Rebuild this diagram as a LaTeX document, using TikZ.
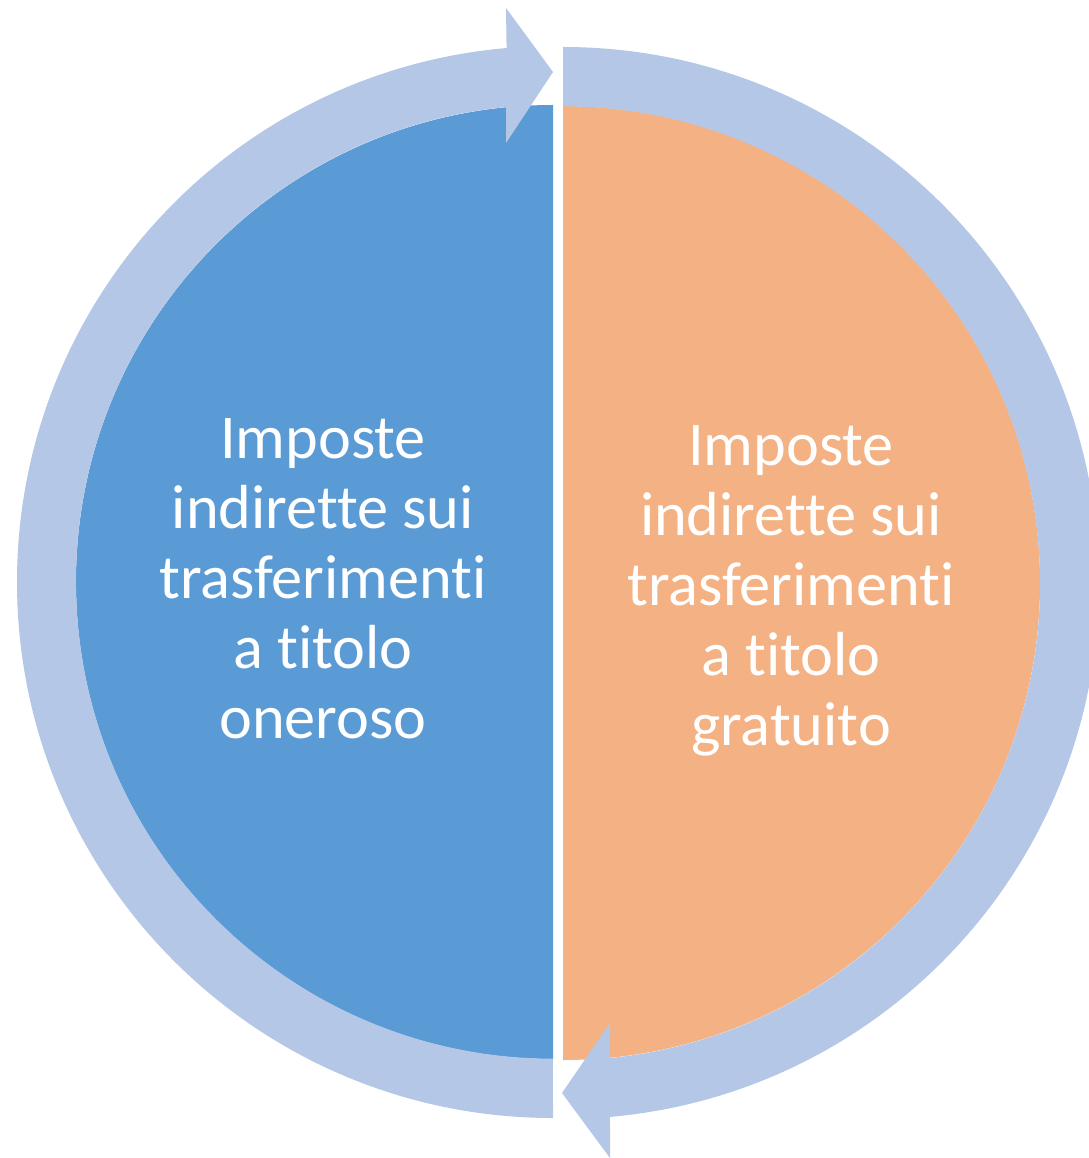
\documentclass[tikz,border=0pt]{standalone}
\usepackage{fontspec}
\setmainfont[Ligatures=CommonOff]{Carlito}
\usepackage{tikz}

\definecolor{onerosoblue}{HTML}{5B9BD5}
\definecolor{gratuitoorange}{HTML}{F4B183}
\definecolor{cycleblue}{HTML}{B4C7E7}

\begin{document}
\begin{tikzpicture}[x=0.01cm,y=-0.01cm,
    halftext/.style={text=white,align=center,anchor=north,inner sep=0pt,
      font=\fontsize{17.7}{19.9}\selectfont}]
  \useasboundingbox (0,0) rectangle (1089,1158);
  \clip (0,0) rectangle (1089,1158);

  \fill[onerosoblue] (553,105)
  arc[start angle=270,end angle=90,radius=477]
  -- cycle;
  \fill[gratuitoorange] (563,106)
  arc[start angle=-90,end angle=90,radius=477]
  -- cycle;

  \fill[cycleblue] (553,1118)
  arc[start angle=90,end angle=265.03,radius=536]
  -- (506,8)
  -- (553,72)
  -- (506,143)
  -- (506,107)
  arc[start angle=264.35,end angle=90,radius=477]
  -- cycle;
  \fill[cycleblue] (563,47)
  arc[start angle=270,end angle=444.97,radius=536]
  -- (610,1158)
  -- (562,1093)
  -- (610,1023)
  -- (610,1058)
  arc[start angle=444.35,end angle=270,radius=477]
  -- cycle;

  \node[halftext] (lefttext) at (323,418)
  {Imposte\\indirette sui\\trasferimenti\\a titolo\\oneroso};
  \node[halftext] (righttext) at (791,425)
  {Imposte\\indirette sui\\trasferimenti\\a titolo\\gratuito};
\end{tikzpicture}
\end{document}
